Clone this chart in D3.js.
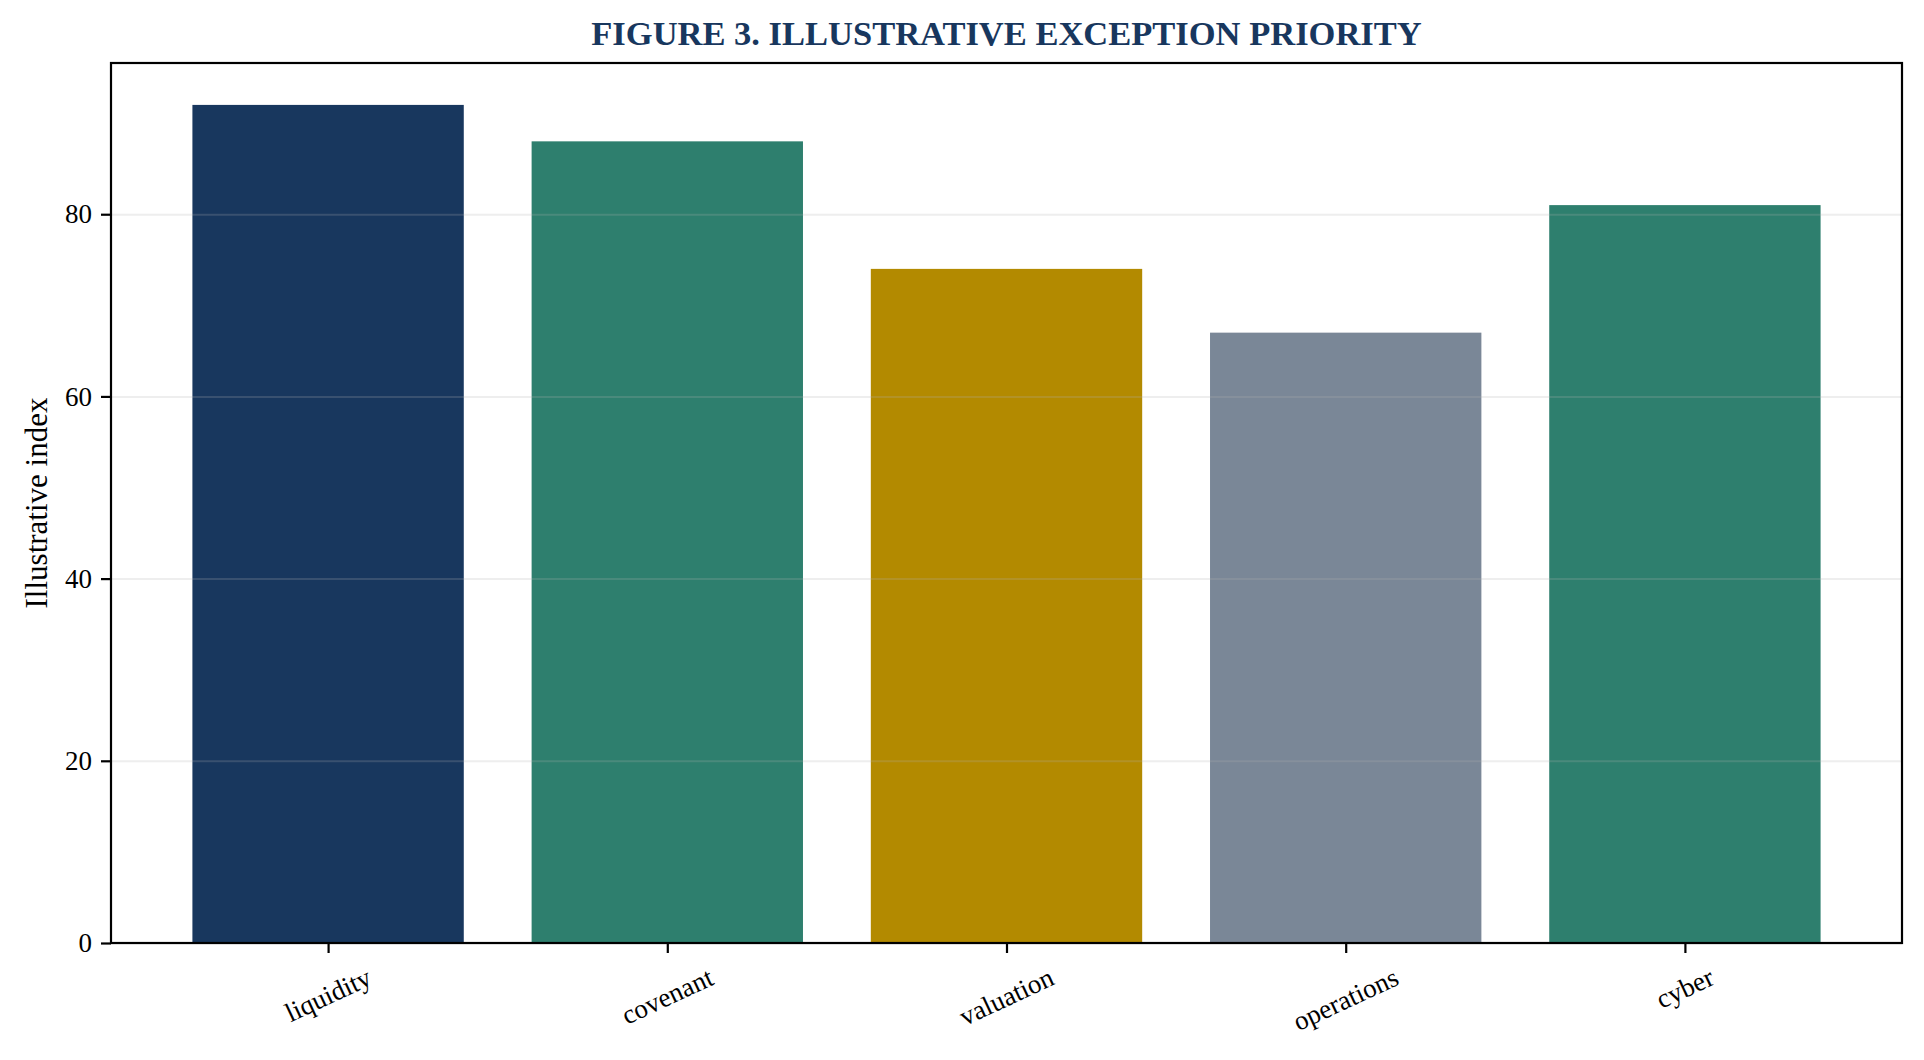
<!DOCTYPE html>
<html>
<head>
<meta charset="utf-8">
<script src="https://cdn.jsdelivr.net/npm/d3@7"></script>
<style>
  html, body { margin: 0; padding: 0; background: #fff; }
  svg { display: block; font-family: "Liberation Serif", "Times New Roman", serif; }
</style>
</head>
<body>
<svg id="chart"></svg>
<script>
const categories = ["liquidity", "covenant", "valuation", "operations", "cyber"];
const values = [92, 88, 74, 67, 81];
const barColors = ["#18375e", "#2e7f6e", "#b38a00", "#7a8797", "#2e7f6e"];
const yTicks = [0, 20, 40, 60, 80];

const W = 1924, H = 1060;
const margin = { top: 63, right: 22, bottom: 117, left: 111 };
const iw = W - margin.left - margin.right;
const ih = H - margin.top - margin.bottom;

const svg = d3.select("#chart").attr("width", W).attr("height", H);
const g = svg.append("g").attr("transform", `translate(${margin.left},${margin.top})`);

// matplotlib-style margins: bars of width 0.8 at 0..n-1, 5% padding
const n = categories.length;
const x = d3.scaleLinear()
  .domain([-0.4 - 0.05 * (n - 0.2), n - 0.6 + 0.05 * (n - 0.2)])
  .range([0, iw]);

const yMax = d3.max(values) * 1.05;
const y = d3.scaleLinear().domain([0, yMax]).range([ih, 0]);

const data = categories.map((c, i) => ({ cat: c, i: i, value: values[i], color: barColors[i] }));

// bars
g.selectAll(".bar")
  .data(data)
  .enter().append("rect")
  .attr("class", "bar")
  .attr("x", d => x(d.i - 0.4))
  .attr("width", d => x(d.i + 0.4) - x(d.i - 0.4))
  .attr("y", d => y(d.value))
  .attr("height", d => y(0) - y(d.value))
  .attr("fill", d => d.color);

// horizontal grid, drawn over the bars
g.append("g")
  .attr("class", "grid")
  .call(d3.axisLeft(y).tickValues(yTicks).tickSize(-iw).tickFormat(""))
  .call(s => s.select(".domain").remove())
  .call(s => s.selectAll("line")
    .attr("stroke", "#b0b0b0")
    .attr("stroke-opacity", 0.22)
    .attr("stroke-width", 2));

// y axis
const yAxis = g.append("g")
  .call(d3.axisLeft(y).tickValues(yTicks).tickSize(10).tickPadding(9).tickFormat(d3.format("d")));
yAxis.select(".domain").remove();
yAxis.selectAll("line").attr("stroke", "#000").attr("stroke-width", 2.2);
yAxis.selectAll("text")
  .attr("font-size", 27)
  .attr("font-family", "Liberation Serif, serif")
  .attr("fill", "#000");

// x axis
const xAxis = g.append("g")
  .attr("transform", `translate(0,${ih})`)
  .call(d3.axisBottom(x).tickValues(d3.range(n)).tickSize(10).tickFormat(""));
xAxis.select(".domain").remove();
xAxis.selectAll("line").attr("stroke", "#000").attr("stroke-width", 2.2);

// rotated x labels, top of rotated box aligned under tick
const labelTop = ih + 10 + 9;
const ang = 25 * Math.PI / 180;
g.selectAll(".xlab")
  .data(data)
  .enter().append("text")
  .attr("class", "xlab")
  .attr("font-size", 27)
  .attr("text-anchor", "middle")
  .attr("dominant-baseline", "central")
  .attr("fill", "#000")
  .text(d => d.cat)
  .each(function(d) {
    const bb = this.getBBox();
    const boxH = bb.width * Math.sin(ang) + bb.height * Math.cos(ang);
    const cx = x(d.i), cy = labelTop + boxH / 2;
    d3.select(this)
      .attr("x", cx).attr("y", cy)
      .attr("transform", `rotate(-25,${cx},${cy})`);
  });

// frame
g.append("rect")
  .attr("width", iw).attr("height", ih)
  .attr("fill", "none")
  .attr("stroke", "#000")
  .attr("stroke-width", 2.2);

// y label
svg.append("text")
  .attr("transform", `translate(36,${margin.top + ih / 2}) rotate(-90)`)
  .attr("text-anchor", "middle")
  .attr("dominant-baseline", "central")
  .attr("font-size", 31)
  .attr("fill", "#000")
  .text("Illustrative index");

// title
svg.append("text")
  .attr("x", margin.left + iw / 2)
  .attr("y", 45)
  .attr("text-anchor", "middle")
  .attr("font-size", 34.5)
  .attr("font-weight", "bold")
  .attr("fill", "#18375e")
  .text("FIGURE 3. ILLUSTRATIVE EXCEPTION PRIORITY");
</script>
</body>
</html>
